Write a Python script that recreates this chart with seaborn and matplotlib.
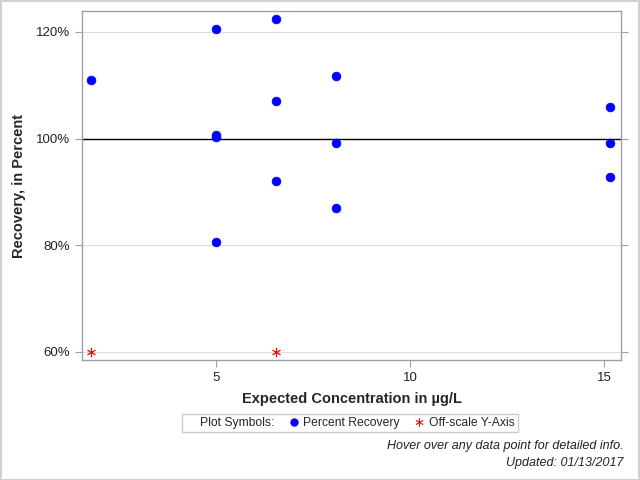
import matplotlib
matplotlib.use("Agg")
import matplotlib.pyplot as plt
from matplotlib.lines import Line2D
from matplotlib.patches import Rectangle
from matplotlib.ticker import FuncFormatter
import seaborn as sns
import pandas as pd

# Percent recovery values (expected concentration, recovery %)
conc = [1.78, 5.0, 5.0, 5.0, 5.0, 6.55, 6.55, 6.55, 8.09, 8.09, 8.09, 15.15, 15.15, 15.15]
recovery = [111.0, 120.6, 100.6, 100.3, 80.6, 122.4, 107.1, 92.0, 111.8, 99.2, 86.9, 106.0, 99.2, 92.7]

# Off-scale points drawn at the bottom of the axis
offscale_conc = [1.78, 6.55]
offscale_y = [60, 60]

df = pd.DataFrame({"conc": conc, "recovery": recovery})
df_off = pd.DataFrame({"conc": offscale_conc, "recovery": offscale_y})

sns.set_style("white")
plt.rcParams["font.family"] = ["Liberation Sans", "DejaVu Sans"]

fig = plt.figure(figsize=(6.4, 4.8), dpi=100)
ax = fig.add_axes([82 / 640, 1 - 360 / 480, (621 - 82) / 640, (360 - 11) / 480])

ax.axhline(100, color="black", linewidth=1.0, zorder=1)
sns.scatterplot(data=df, x="conc", y="recovery", color="#0000ff", s=40,
                edgecolor="#0000ff", linewidth=0.5, ax=ax, zorder=3)
sns.scatterplot(data=df_off, x="conc", y="recovery", color="red", marker="$\\ast$",
                s=45, linewidth=0, ax=ax, zorder=3)

ax.set_xlim(1.55, 15.44)
ax.set_ylim(58.5, 123.9)
ax.set_xticks([5, 10, 15])
ax.set_yticks([60, 80, 100, 120])
ax.yaxis.set_major_formatter(FuncFormatter(lambda v, p: f"{v:.0f}%"))
ax.grid(axis="y", color="#dddddd", linewidth=0.8, zorder=0)
ax.set_axisbelow(True)

for s in ax.spines.values():
    s.set_color("#a0a0a0")
    s.set_linewidth(1.0)

ax.tick_params(axis="both", which="both", direction="out", length=5, color="#a0a0a0",
               labelsize=9.5, labelcolor="#222222")
ax.tick_params(axis="y", right=True, left=True)
ax.tick_params(axis="x", bottom=True)

ax.set_xlabel("Expected Concentration in µg/L", fontsize=10.5, fontweight="bold", labelpad=6)
ax.set_ylabel("Recovery, in Percent", fontsize=10.5, fontweight="bold", labelpad=7)

handles = [
    Line2D([], [], linestyle="none", marker=None),
    Line2D([], [], linestyle="none", marker="o", color="#0000ff", markersize=5),
    Line2D([], [], linestyle="none", marker="$\\ast$", color="red", markersize=6,
           markeredgewidth=0),
]
labels = ["Plot Symbols:", "Percent Recovery", "Off-scale Y-Axis"]
leg = fig.legend(handles, labels, ncol=3, loc="center", bbox_to_anchor=(350 / 640, 1 - 423 / 480),
                 frameon=True, fancybox=False, fontsize=8.7, handlelength=0.8, handletextpad=0.4,
                 columnspacing=1.2, borderpad=0.25, edgecolor="#c0c0c0")
leg.get_frame().set_linewidth(1.0)

fig.text(624 / 640, 1 - 446 / 480, "Hover over any data point for detailed info.",
         ha="right", va="center", fontsize=9, style="italic", color="#222222")
fig.text(624 / 640, 1 - 463 / 480, "Updated: 01/13/2017",
         ha="right", va="center", fontsize=9, style="italic", color="#222222")

fig.patches.append(Rectangle((0.001, 0.001), 0.997, 0.997, transform=fig.transFigure,
                             fill=False, edgecolor="#d0d0d0", linewidth=1.5))

fig.savefig("out.png", dpi=100)
